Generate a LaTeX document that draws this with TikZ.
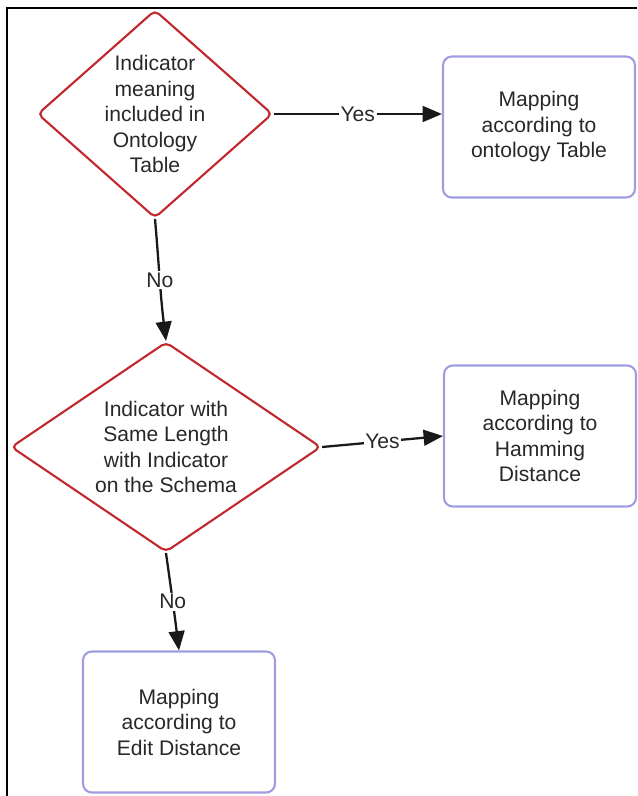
\documentclass[tikz,border=0pt]{standalone}
\usepackage{fontspec}
\setmainfont{Liberation Sans}
\usetikzlibrary{shapes.geometric,arrows.meta}

\definecolor{decred}{RGB}{192,40,45}
\definecolor{boxblue}{RGB}{160,156,224}
\definecolor{textgray}{RGB}{40,40,40}

\tikzset{
  decision/.style={diamond, draw=decred, line width=1.2pt, rounded corners=3pt,
    minimum width=#1, inner sep=0pt},
  mapbox/.style={rectangle, draw=boxblue, line width=1.2pt, rounded corners=5pt,
    minimum width=3.84cm, minimum height=2.82cm, align=center, text=textgray,
    font=\fontsize{12}{14.5}\selectfont},
  dtext/.style={align=center, text=textgray, font=\fontsize{12}{14.5}\selectfont},
  flow/.style={-{Triangle[length=11pt,width=9pt]}, line width=1.3pt, black!90},
  lbl/.style={fill=white, inner sep=1pt, text=textgray, font=\fontsize{12}{14.5}\selectfont}
}

\begin{document}
\begin{tikzpicture}[x=0.02cm, y=-0.02cm]
  \useasboundingbox (0,0) rectangle (637,796);
  % frame, only top and left sides show
  \draw [line width=1pt] (637,8) -- (7,8) -- (7,796);

  % decisions
  \node [decision=4.7cm, minimum height=4.16cm] (dec1) at (155,114) {};
  \node [dtext] (dec1txt) at (dec1) {Indicator\\meaning\\included in\\Ontology\\Table};
  \node [decision=6.2cm, minimum height=4.2cm] (dec2) at (166,447) {};
  \node [dtext] (dec2txt) at (dec2) {Indicator with\\Same Length\\with Indicator\\on the Schema};

  % mappings
  \node [mapbox] (ontology) at (539,127) {Mapping\\according to\\ontology Table};
  \node [mapbox] (hamming) at (540,436) {Mapping\\according to\\Hamming\\Distance};
  \node [mapbox] (edit) at (179,722) {Mapping\\according to\\Edit Distance};

  % connectors
  \draw [flow] (dec1.east) -- node [lbl] (yes1) {Yes} (dec1.east -| ontology.west);
  \draw [flow] (dec1.south) to [out=-85, in=97] node [lbl] (no1) {No} (dec2.north);
  \draw [flow] (dec2.east) -- node [lbl] (yes2) {Yes} (hamming.west);
  \draw [flow] (dec2.south) to [out=-82, in=97] node [lbl] (no2) {No} (edit.north);
\end{tikzpicture}
\end{document}
